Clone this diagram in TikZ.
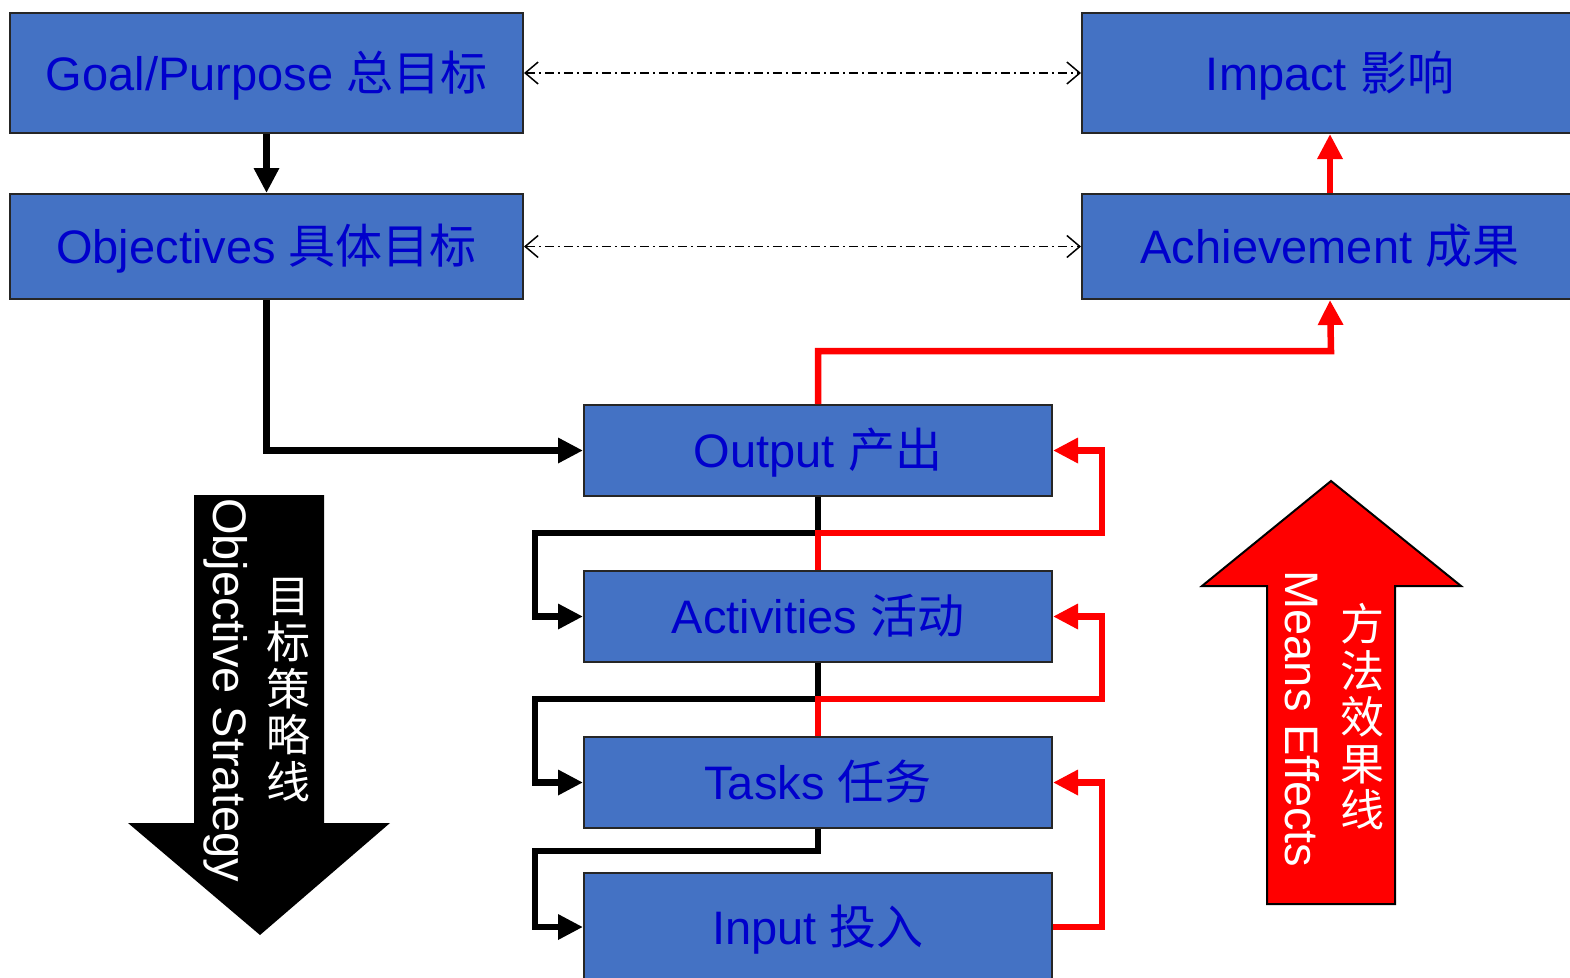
\documentclass[tikz,border=0pt]{standalone}
\usepackage{fontspec}
\setmainfont{Liberation Sans}
\newfontfamily\cjk{Noto Sans CJK SC}
\usetikzlibrary{arrows.meta}
\definecolor{boxblue}{HTML}{4472C4}
\definecolor{txtblue}{HTML}{0000CC}
\definecolor{myred}{HTML}{FF0000}
\begin{document}
\begin{tikzpicture}[x=1pt,y=-1pt,
  box/.style={draw=black!85, line width=2pt, fill=boxblue, text=txtblue,
    font=\fontsize{47}{50}\selectfont, inner sep=0pt, text height=40pt, text depth=6pt,
    minimum width=468pt, minimum height=91pt},
  blk/.style={line width=6.5pt, black, -{Triangle[length=25pt,width=24pt]}},
  redl/.style={line width=6.5pt, myred, -{Triangle[length=25pt,width=24pt]}},
  dd/.style={line width=1.5pt, black, dash pattern=on 9pt off 4pt on 2pt off 4pt,
    {Straight Barb[length=13pt,width=22pt]}-{Straight Barb[length=13pt,width=22pt]}},
  vtxt/.style={text=white, font=\fontsize{47}{50}\selectfont, inner sep=0pt},
  vcjk/.style={text=white, align=center, font=\cjk\fontsize{44}{46.5}\selectfont, inner sep=0pt},
]
\useasboundingbox (0,0) rectangle (1570,977);
\clip (0,0) rectangle (1570,977);

% boxes
\node[box, minimum width=513pt, minimum height=120pt] (goal) at (266.5,73) {Goal/Purpose {\cjk 总目标}};
\node[box, minimum width=496pt, minimum height=120pt] (imp) at (1330,73) {Impact {\cjk 影响}};
\node[box, minimum width=513pt, minimum height=105pt] (obj) at (266.5,246.5) {Objectives {\cjk 具体目标}};
\node[box, minimum width=496pt, minimum height=105pt] (ach) at (1330,246.5) {Achievement {\cjk 成果}};
\node[box] (out) at (818,450.5) {Output {\cjk 产出}};
\node[box] (act) at (818,616.5) {Activities {\cjk 活动}};
\node[box] (tsk) at (818,782.5) {Tasks {\cjk 任务}};
\node[box, minimum height=108pt] (inp) at (818,927) {Input {\cjk 投入}};

% dash-dot links
\draw[dd] (goal.east) -- (imp.west);
\draw[dd] (obj.east) -- (ach.west);

% black strategy connectors
\draw[blk] (goal.south) -- (obj.north);
\draw[blk] (obj.south) |- (out.west);
\draw[blk] (out.south) |- (535,533) |- (act.west);
\draw[blk] (act.south) |- (535,699) |- (tsk.west);
\draw[blk] (tsk.south) |- (535,851) |- (inp.west);

% red effect connectors
\draw[redl] (ach.north) -- (imp.south);
\draw[redl] (out.north) |- (1331,351) -- (ach.south);
\draw[redl] (act.north) |- (1102,533) |- (out.east);
\draw[redl] (tsk.north) |- (1102,699) |- (act.east);
\draw[redl] (inp.east) -- (1102,927) |- (tsk.east);

% big black arrow
\fill[black] (194,495) -- (324,495) -- (324,823) -- (390,823) -- (260,935) -- (128,823) -- (194,823) -- cycle;
\node[vtxt, rotate=-90] (os) at (226,690) {Objective Strategy};
\node[vcjk] (osc) at (288,690) {目\\标\\策\\略\\线};

% big red arrow
\filldraw[fill=myred, draw=black, line width=2pt] (1331,481) -- (1461,586) -- (1395,586) -- (1395,904) -- (1267,904) -- (1267,586) -- (1202,586) -- cycle;
\node[vtxt, rotate=-90] (me) at (1302,719) {Means Effects};
\node[vcjk] (mec) at (1362,717) {方\\法\\效\\果\\线};
\end{tikzpicture}
\end{document}
